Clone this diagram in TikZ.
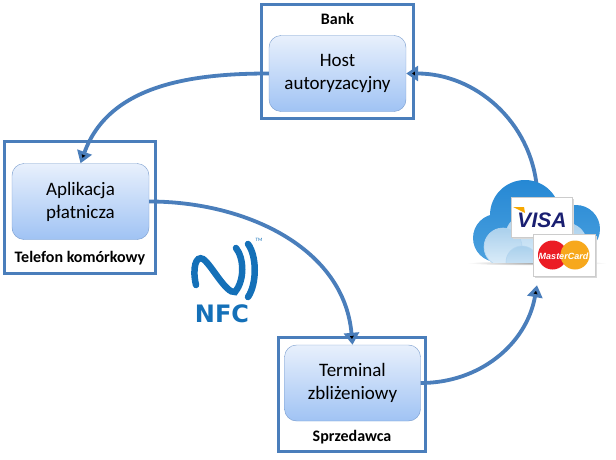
\documentclass[tikz,border=0pt]{standalone}
\usepackage{fontspec}
\setmainfont{Carlito}
\newfontfamily\nfcfont{DejaVu Sans}
\newfontfamily\cardfont{Liberation Sans}
\usepackage{tikz}
\usetikzlibrary{arrows.meta}

\definecolor{framecol}{RGB}{74,126,187}
\definecolor{boxtop}{RGB}{232,240,252}
\definecolor{boxbot}{RGB}{160,195,244}
\definecolor{boxline}{RGB}{118,154,204}
\definecolor{nfcblue}{RGB}{20,112,184}
\definecolor{cloudtop}{RGB}{38,136,212}
\definecolor{cloudbot}{RGB}{80,164,224}
\definecolor{bumptop}{RGB}{170,208,236}
\definecolor{bumpbot}{RGB}{222,238,250}
\definecolor{visablue}{RGB}{26,31,113}
\definecolor{visagold}{RGB}{247,168,0}
\definecolor{mcred}{RGB}{235,28,36}
\definecolor{mcorange}{RGB}{247,168,28}

\begin{document}
\begin{tikzpicture}[x=1pt, y=-1pt,
  frame/.style={draw=framecol, line width=3pt, inner sep=0pt},
  unit/.style={rounded corners=12pt, draw=boxline, top color=boxtop, bottom color=boxbot,
    align=center, font=\fontsize{19}{23}\selectfont, minimum width=137pt, minimum height=76pt},
  owner/.style={font=\fontsize{16}{19}\selectfont\bfseries},
  flow/.style={draw=framecol, line width=3.8pt, -{Triangle[length=12pt,width=15pt]}},
  nfc/.style={draw=nfcblue, line width=6.5pt, line cap=round},
  bump/.style={top color=bumptop, bottom color=bumpbot, draw=cloudtop!35, line width=0.6pt}]
  \useasboundingbox (0,0) rectangle (616,460);

  \node[frame, minimum width=152pt, minimum height=113.5pt] (bankbox) at (337.5,61.75) {};
  \node[owner] (bank) at (337.5,19) {Bank};
  \node[unit] (host) at (337.5,73.5) {Host\\autoryzacyjny};

  \node[frame, minimum width=151pt, minimum height=132pt] (phonebox) at (80,207.5) {};
  \node[unit] (app) at (80.5,201.5) {Aplikacja\\płatnicza};
  \node[owner] (phone) at (80,258) {Telefon komórkowy};

  \node[frame, minimum width=147pt, minimum height=114pt] (sellerbox) at (352,394.5) {};
  \node[unit, minimum width=136pt] (term) at (352.5,383) {Terminal\\zbliżeniowy};
  \node[owner] (seller) at (352,437) {Sprzedawca};

  \node[minimum width=130pt, minimum height=96pt] (cloud) at (537,237) {};

  \path[flow]
  (host.west) edge [out=180, in=70] (app.north)
  (app.east) edge [out=0, in=95] (term.north)
  (term.east) edge [out=0, in=-100] (cloud.south)
  (cloud.north) edge [out=95, in=0] (host.east)
;

  \shade[inner color=black!35, outer color=white] (537,263) ellipse (70pt and 2.5pt);
  \begin{scope}
    \clip (460,150) rectangle (610,262);
    \shade[top color=cloudtop, bottom color=cloudbot]
      (525,215) circle (35pt) (497,238) circle (24pt) (576,229) circle (24pt)
      (540,250) circle (22pt) (515,252) circle (18pt) (560,250) circle (20pt);
    \shade[bump] (530,238) circle (25pt);
    \shade[bump] (566,244) circle (21pt);
    \shade[bump] (503,247) circle (19pt);
    \shade[bump] (522,262) circle (16pt);
  \end{scope}

  \fill[black!15] (512.5,198.5) rectangle (573.5,238.5);
  \filldraw[fill=white, draw=black!20] (511,197) rectangle (572,237);
  \fill[visagold] (513,207) -- (524,207) -- (525,213) -- cycle;
  \node[font=\cardfont\bfseries\itshape\fontsize{21}{21}\selectfont, text=visablue] (visa) at (542,220) {VISA};

  \fill[black!15] (534.5,235.5) rectangle (596.5,277.5);
  \filldraw[fill=white, draw=black!20] (533,234) rectangle (595,276);
  \fill[mcred] (552.5,255) circle (14.5pt);
  \fill[mcorange] (575,255) circle (14.5pt);
  \node[font=\cardfont\bfseries\itshape\fontsize{9}{9}\selectfont, text=white, inner sep=0pt] (mc) at (563.5,256) {MasterCard};

  \draw[nfc] (196,285) .. controls (192,268) and (196,255) .. (203,259)
    .. controls (211,264) and (226,294) .. (235,292)
    .. controls (245,280) and (244,258) .. (236,248);
  \draw[nfc] (248,244) .. controls (257,256) and (257,284) .. (248,297);
  \node[font=\nfcfont\bfseries\fontsize{24}{24}\selectfont, text=nfcblue] (nfclogo) at (222,314) {NFC};
  \node[font=\fontsize{5}{5}\selectfont, text=nfcblue, inner sep=0pt] (tm) at (259,240) {TM};
\end{tikzpicture}
\end{document}
